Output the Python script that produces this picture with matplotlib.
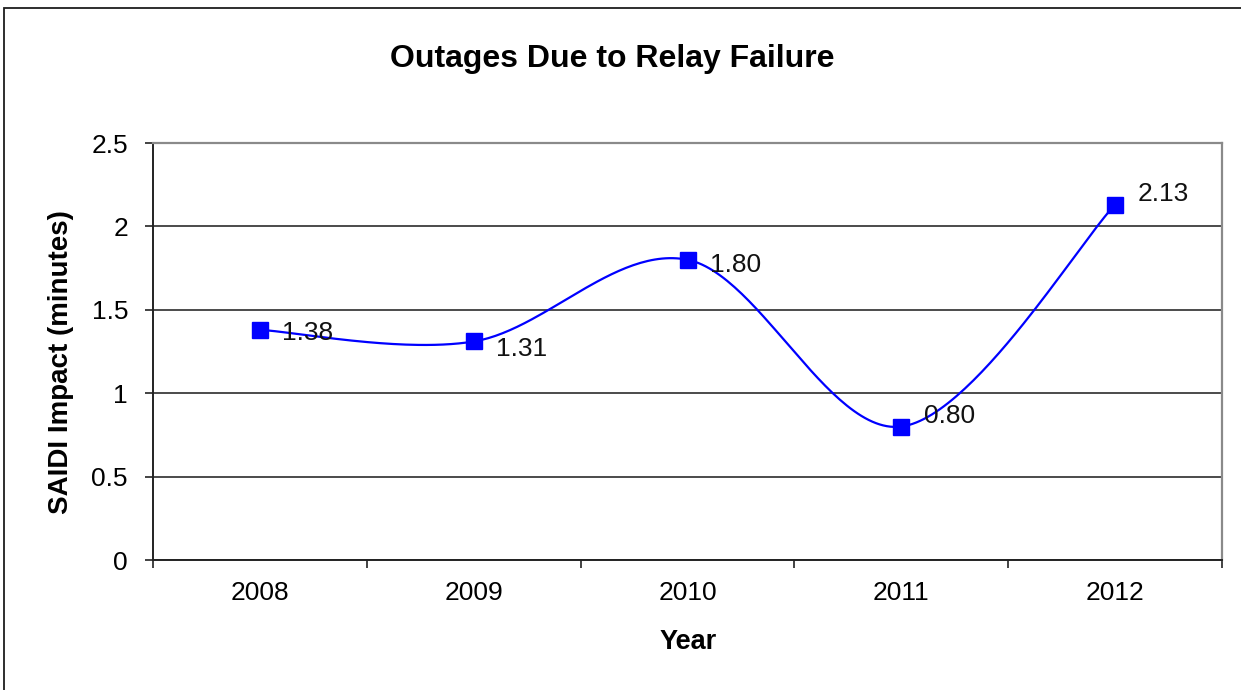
import numpy as np
import matplotlib
matplotlib.use("Agg")
import matplotlib.pyplot as plt
from matplotlib.patches import Rectangle

# Data
years = ["2008", "2009", "2010", "2011", "2012"]
saidi = [1.38, 1.31, 1.80, 0.80, 2.13]
value_labels = ["1.38", "1.31", "1.80", "0.80", "2.13"]
y_ticks = [0, 0.5, 1, 1.5, 2, 2.5]
y_tick_labels = ["0", "0.5", "1", "1.5", "2", "2.5"]

# Per-label text offsets (points, right/up from the marker)
label_offsets = [(16, -2.5), (16, -5.4), (16, -4.0), (16, 7.6), (16, 7.6)]

plt.rcParams["font.family"] = ["Liberation Sans", "DejaVu Sans"]

W, H = 1241, 690
fig = plt.figure(figsize=(W / 100, H / 100), dpi=100)
fig.patch.set_facecolor("white")

# Chart-area frame
fig.add_artist(Rectangle((4 / W, -0.1), 2.0, 1 - 8 / H + 0.1,
                         transform=fig.transFigure, fill=False,
                         edgecolor="#1e1e1e", linewidth=1.3, zorder=0))

left, right, top, bottom = 153, 1222, 143, 560
ax = fig.add_axes([left / W, 1 - bottom / H, (right - left) / W, (bottom - top) / H])


def smooth_curve(xs, ys, n=60):
    """Cubic Bezier through the points, Catmull-Rom style control points."""
    pts = np.column_stack([xs, ys]).astype(float)
    out = []
    m = len(pts)
    for i in range(m - 1):
        p0 = pts[i - 1] if i > 0 else pts[i]
        p1 = pts[i]
        p2 = pts[i + 1]
        p3 = pts[i + 2] if i + 2 < m else pts[i + 1]
        c1 = p1 + (p2 - p0) / 6.0
        c2 = p2 - (p3 - p1) / 6.0
        t = np.linspace(0, 1, n)[:, None]
        seg = ((1 - t) ** 3) * p1 + 3 * ((1 - t) ** 2) * t * c1 \
            + 3 * (1 - t) * t ** 2 * c2 + t ** 3 * p2
        out.append(seg if i == 0 else seg[1:])
    out = np.vstack(out)
    return out[:, 0], out[:, 1]


x = np.arange(len(years))
sx, sy = smooth_curve(x, saidi)
ax.plot(sx, sy, color="#0000ff", linewidth=1.6, zorder=3, solid_capstyle="round")
ax.plot(x, saidi, linestyle="none", marker="s", markersize=11,
        color="#0000ff", zorder=4)

for xi, val, txt, (dx, dy) in zip(x, saidi, value_labels, label_offsets):
    ax.annotate(txt, (xi, val), xytext=(dx, dy), textcoords="offset points",
                ha="left", va="center", fontsize=19, color="#111111", zorder=5)

ax.set_xlim(-0.5, len(years) - 0.5)
ax.set_ylim(0, 2.5)

# Category axis: ticks at boundaries, labels centred on categories
ax.set_xticks(np.arange(-0.5, len(years), 1.0))
ax.set_xticklabels([])
ax.set_xticks(x, minor=True)
ax.set_xticklabels(years, minor=True, fontsize=19)
ax.tick_params(axis="x", which="major", direction="out", length=6, width=1.2,
               color="#222222")
ax.tick_params(axis="x", which="minor", length=0, pad=15)

ax.set_yticks(y_ticks)
ax.set_yticklabels(y_tick_labels, fontsize=19)
ax.tick_params(axis="y", direction="out", length=6, width=1.2,
               color="#222222", pad=12)

ax.grid(axis="y", color="#1a1a1a", linewidth=1.1, zorder=1)
ax.set_axisbelow(True)

for side in ("left", "bottom"):
    ax.spines[side].set_color("#222222")
    ax.spines[side].set_linewidth(1.4)
for side in ("top", "right"):
    ax.spines[side].set_color("#8a8a8a")
    ax.spines[side].set_linewidth(1.6)

fig.text(612 / W, 1 - 67 / H, "Outages Due to Relay Failure", ha="center",
         va="baseline", fontsize=23, fontweight="bold")
fig.text(61 / W, 1 - 362 / H, "SAIDI Impact (minutes)", ha="center",
         va="center", rotation=90, fontsize=20, fontweight="bold")
fig.text(688 / W, 1 - 649 / H, "Year", ha="center", va="baseline",
         fontsize=19.5, fontweight="bold")

fig.savefig("out.png", dpi=100, facecolor="white")
